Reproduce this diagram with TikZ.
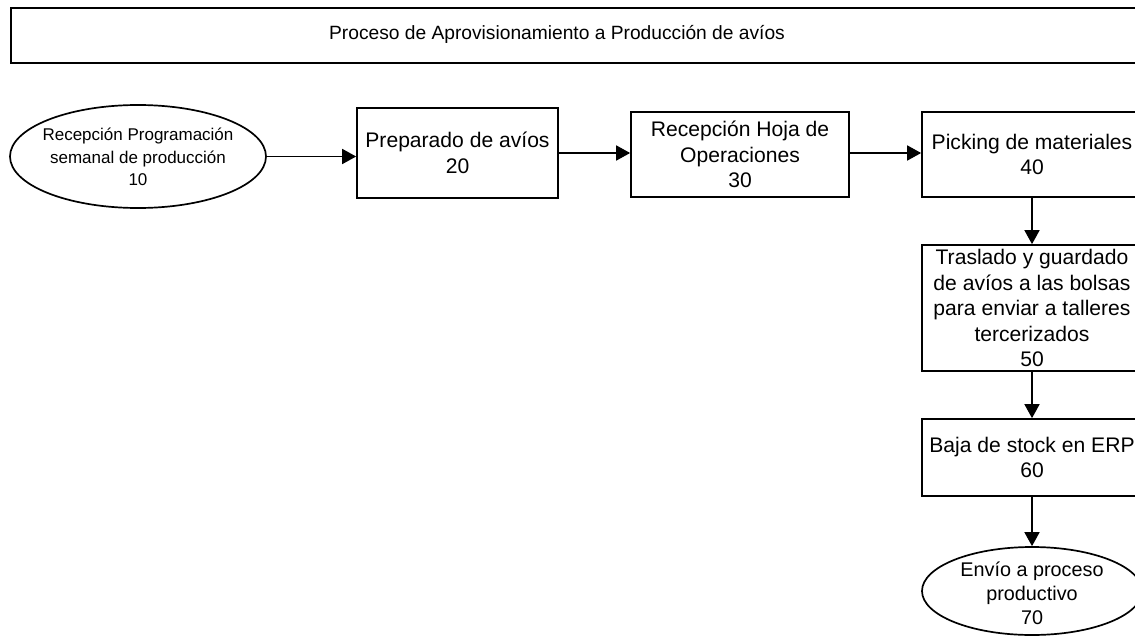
\documentclass[tikz,border=0pt]{standalone}
\usepackage{fontspec}
\setmainfont{Liberation Sans}
\usetikzlibrary{shapes.geometric,arrows.meta}
\tikzset{
  stepbox/.style={draw=black, line width=1.7pt, rectangle, inner sep=0pt, align=center,
    font=\fontsize{21.1}{25.5}\selectfont},
  oval/.style={draw=black, line width=1.7pt, ellipse, inner sep=0pt},
  flow/.style={line width=1.7pt, -{Triangle[length=14pt,width=15pt]}},
  ovaltext/.style={align=center, inner sep=0pt}
}
\begin{document}
\begin{tikzpicture}[x=1pt,y=-1pt]
\useasboundingbox (0,0) rectangle (1135,637);
\clip (0,0) rectangle (1135,637);
\fill[white] (0,0) rectangle (1135,637);
% title
\node[draw=black, line width=1.7pt, rectangle, minimum width=1140pt, minimum height=55pt, anchor=north west, inner sep=0pt] (title) at (10,7) {};
\node[font=\fontsize{19.2}{23}\selectfont, inner sep=0pt] (titletext) at (557,34.5) {Proceso de Aprovisionamiento a Producción de avíos};
% nodes
\node[oval, minimum width=256pt, minimum height=103pt] (n10) at (138,156.5) {};
\node[ovaltext, font=\fontsize{17}{22.5}\selectfont] (t10) at (138,157) {Recepción Programación\\semanal de producción\\10};
\node[stepbox, minimum width=201pt, minimum height=90pt] (n20) at (457.5,153) {Preparado de avíos\\20};
\node[stepbox, minimum width=218pt, minimum height=85pt] (n30) at (740,154.5) {Recepción Hoja de\\Operaciones\\30};
\node[stepbox, minimum width=220pt, minimum height=85pt] (n40) at (1032,154.5) {Picking de materiales\\40};
\node[stepbox, minimum width=220pt, minimum height=126pt] (n50) at (1032,308) {Traslado y guardado\\de avíos a las bolsas\\para enviar a talleres\\tercerizados\\50};
\node[stepbox, minimum width=220pt, minimum height=77pt] (n60) at (1032,457.5) {Baja de stock en ERP\\60};
\node[oval, minimum width=220pt, minimum height=88pt] (n70) at (1032,591) {};
\node[ovaltext, font=\fontsize{19.8}{24}\selectfont] (t70) at (1032,593) {Envío a proceso\\productivo\\70};
% connectors
\draw[flow] (n10.east) -- (n20.west |- n10.east);
\draw[flow] (n20.east) -- (n30.west |- n20.east);
\draw[flow] (n30.east |- n20.east) -- (n40.west |- n20.east);
\draw[flow] (n40.south) -- (n50.north);
\draw[flow] (n50.south) -- (n60.north);
\draw[flow] (n60.south) -- (n70.north);
\end{tikzpicture}
\end{document}
